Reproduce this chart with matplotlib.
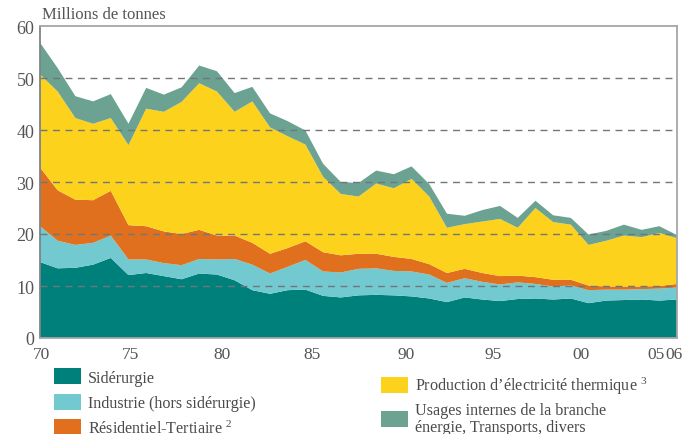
import numpy as np
import matplotlib
matplotlib.use("Agg")
import matplotlib.pyplot as plt
from matplotlib.patches import Patch

plt.rcParams["font.family"] = ["Liberation Serif", "DejaVu Serif"]
plt.rcParams["mathtext.fontset"] = "custom"
plt.rcParams["mathtext.rm"] = "Liberation Serif"
plt.rcParams["mathtext.it"] = "Liberation Serif"

years = np.arange(1970, 2007)

# millions de tonnes
siderurgie = [14.6, 13.4, 13.5, 14.1, 15.4, 12.1, 12.5, 11.9, 11.3, 12.4,
              12.2, 11.1, 9.2, 8.5, 9.2, 9.3, 8.1, 7.8, 8.2, 8.3,
              8.2, 8.0, 7.6, 6.9, 7.8, 7.4, 7.1, 7.5, 7.6, 7.4,
              7.6, 6.7, 7.2, 7.3, 7.4, 7.2, 7.4]
industrie = [6.9, 5.3, 4.4, 4.2, 4.3, 3.0, 2.6, 2.5, 2.7, 2.8,
             2.9, 4.1, 4.9, 3.9, 4.5, 5.7, 4.7, 4.8, 5.1, 5.1,
             4.7, 4.8, 4.6, 3.7, 3.7, 3.4, 3.2, 3.2, 2.8, 2.5,
             2.5, 2.5, 2.1, 2.0, 2.0, 2.3, 2.3]
residentiel = [11.3, 9.7, 8.7, 8.2, 8.6, 6.6, 6.4, 6.1, 6.0, 5.6,
               4.6, 4.5, 4.2, 3.8, 3.6, 3.6, 3.7, 3.3, 2.9, 2.8,
               2.7, 2.4, 2.0, 1.9, 1.8, 1.7, 1.6, 1.3, 1.3, 1.3,
               1.1, 0.9, 0.6, 0.6, 0.5, 0.5, 0.7]
thermique = [17.9, 19.0, 15.7, 14.7, 14.0, 15.4, 22.6, 23.0, 25.4, 28.2,
             27.7, 23.8, 27.2, 24.3, 21.5, 18.6, 14.5, 11.8, 11.0, 13.5,
             13.2, 15.4, 13.0, 8.7, 8.6, 9.9, 11.0, 9.2, 13.3, 11.1,
             10.6, 7.8, 8.8, 9.8, 9.5, 10.2, 8.8]
autres = [6.1, 4.5, 4.2, 4.3, 4.6, 4.1, 4.0, 3.3, 2.8, 3.4,
          3.9, 3.6, 2.8, 2.7, 2.9, 2.7, 2.5, 2.3, 2.6, 2.5,
          2.7, 2.4, 2.4, 2.7, 1.6, 2.2, 2.5, 1.9, 1.4, 1.3,
          1.3, 2.0, 1.9, 2.1, 1.4, 1.3, 0.6]

labels = ["Sidérurgie", "Industrie (hors sidérurgie)", "Résidentiel-Tertiaire $^{2}$",
          "Production d’électricité thermique $^{3}$",
          "Usages internes de la branche\nénergie, Transports, divers"]
colors = ["#00807a", "#72c9d0", "#e0701e", "#fcd21c", "#6ba292"]

xticklabels = ["70", "75", "80", "85", "90", "95", "00", "05", "06"]
# the original labels sit slightly off the year positions
xtick_pos = [1970.1, 1975.1, 1980.3, 1985.4, 1990.7, 1995.6, 2000.6, 2004.8, 2005.85]

fig = plt.figure(figsize=(6.83, 4.35), dpi=100)
ax = fig.add_axes([40 / 683, 1 - 339 / 435, 637 / 683, 312 / 435])

ax.stackplot(years, siderurgie, industrie, residentiel, thermique, autres,
             colors=colors, linewidth=0)

ax.set_xlim(1970, 2006)
ax.set_ylim(0, 60)
ax.set_yticks(range(0, 61, 10))
ax.set_xticks(xtick_pos)
ax.set_xticklabels(xticklabels)
ax.tick_params(length=0, labelsize=12.5, colors="#555555", pad=6)
ax.tick_params(axis="y", labelsize=13, pad=4)

for y in range(10, 60, 10):
    ax.axhline(y, color="#6f777d", lw=1, ls=(0, (5, 4)), zorder=5)
for s in ax.spines.values():
    s.set_color("#a3a7a9")
    s.set_linewidth(1.3)
ax.spines["left"].set_color("#7d8387")

fig.text(42 / 683, 1 - 15 / 435, "Millions de tonnes", fontsize=12,
         color="#555555", va="center", ha="left")

handles = [Patch(facecolor=c, edgecolor="none") for c in colors]
leg1 = fig.legend(handles[:3], labels[:3], loc="upper left",
                  bbox_to_anchor=(54 / 683, 1 - 369 / 435), frameon=False,
                  fontsize=11.6, handlelength=1.68, handleheight=1.18,
                  labelspacing=0.5, handletextpad=0.45, borderaxespad=0,
                  borderpad=0, labelcolor="#4a4a4a")
leg2 = fig.legend(handles[3:], labels[3:], loc="upper left",
                  bbox_to_anchor=(381 / 683, 1 - 376 / 435), frameon=False,
                  fontsize=11.6, handlelength=1.68, handleheight=1.18,
                  labelspacing=0.35, handletextpad=0.45, borderaxespad=0,
                  borderpad=0, labelcolor="#4a4a4a")
for t in leg2.get_texts():
    t.set_linespacing(1.05)

fig.savefig("out.png", dpi=100)
